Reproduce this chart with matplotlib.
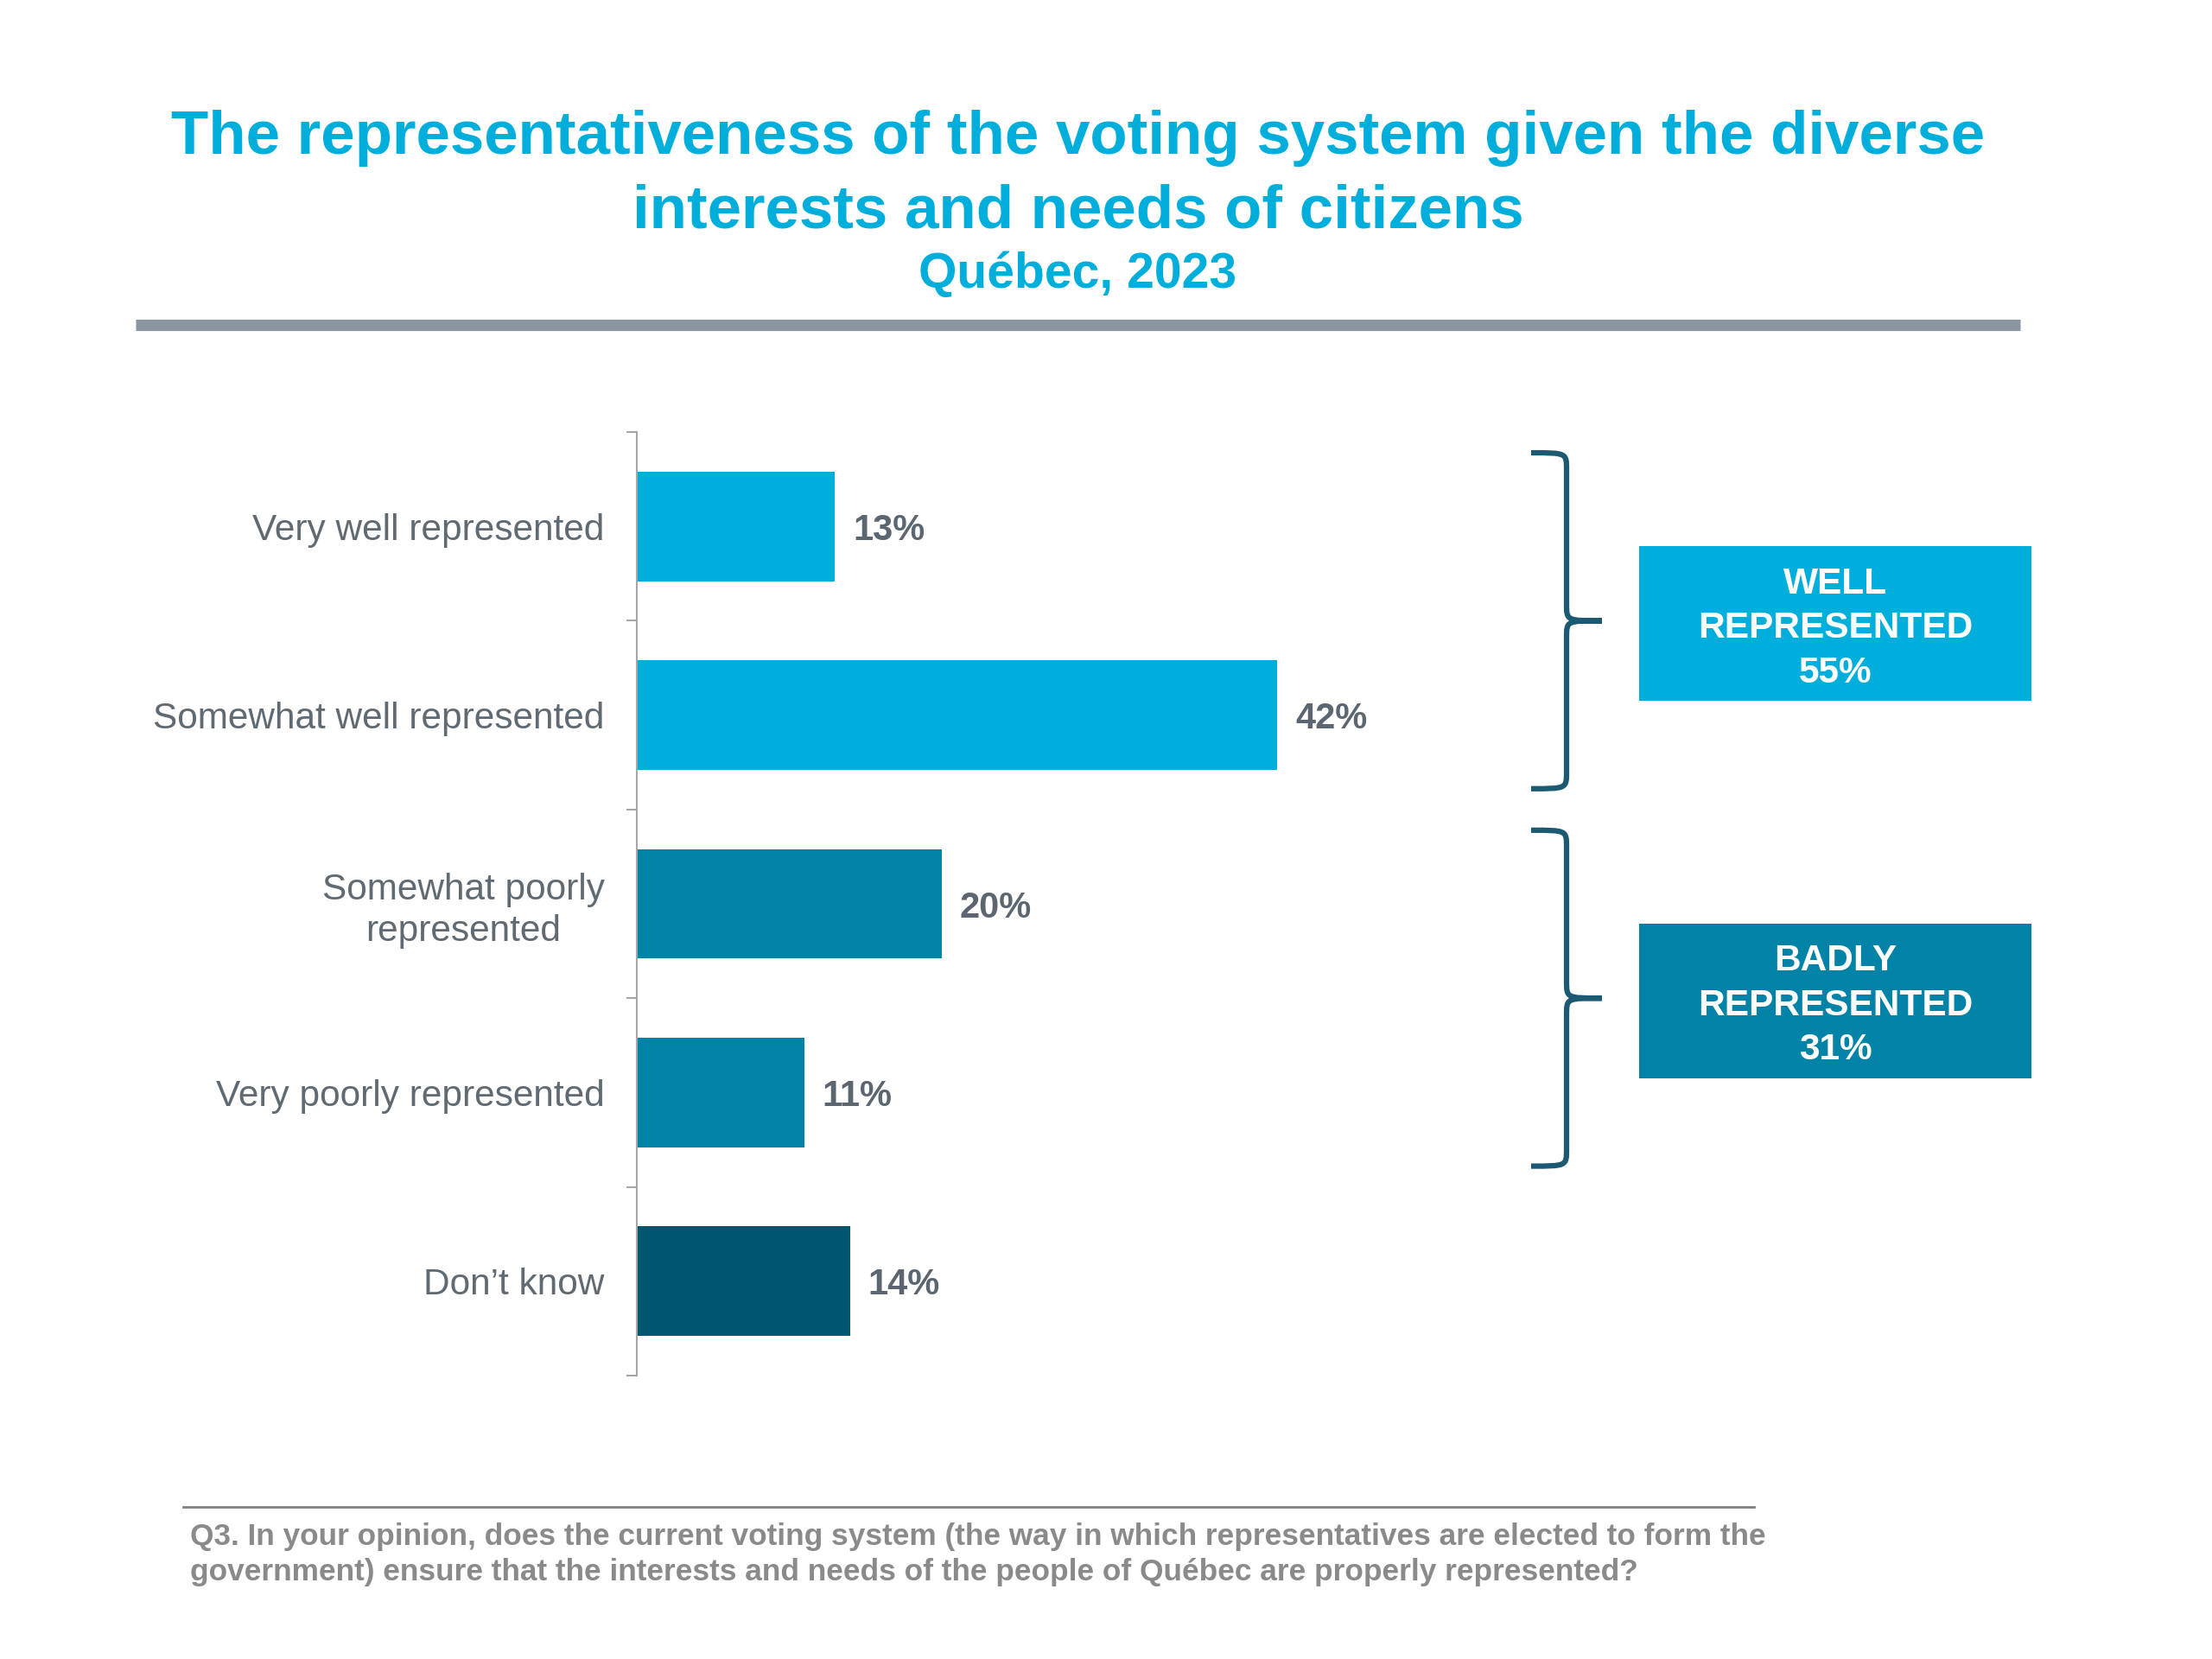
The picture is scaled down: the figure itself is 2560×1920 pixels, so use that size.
import numpy as np
import matplotlib.pyplot as plt
from matplotlib.path import Path
from matplotlib.patches import PathPatch, Rectangle
from matplotlib.lines import Line2D
from matplotlib.transforms import blended_transform_factory

plt.rcParams['font.family'] = ['Liberation Sans', 'DejaVu Sans']

# data
categories = ['Very well represented', 'Somewhat well represented',
              'Somewhat poorly\nrepresented', 'Very poorly represented',
              'Don\u2019t know']
values = [13, 42, 20, 11, 14]
bar_colors = ['#00AEDB', '#00AEDB', '#0083A6', '#0083A6', '#00566E']
groups = ['WELL\nREPRESENTED\n55%', 'BADLY\nREPRESENTED\n31%']
group_rows = [(0, 1), (2, 3)]
group_colors = ['#00AEDB', '#0083A6']

title_color = '#00AEDB'
label_color = '#5F6A72'
brace_color = '#1B5A72'

fig = plt.figure(figsize=(25.6, 19.2), dpi=100)

# titles
tx = 764 / 1568
fig.text(tx, 1 - 160 / 1920, 'The representativeness of the voting system given the diverse',
         ha='center', va='center', fontsize=51, fontweight='bold', color=title_color)
fig.text(tx, 1 - 245 / 1920, 'interests and needs of citizens',
         ha='center', va='center', fontsize=51, fontweight='bold', color=title_color)
fig.text(tx, 1 - 318 / 1920, 'Québec, 2023',
         ha='center', va='center', fontsize=41, fontweight='bold', color=title_color)
fig.add_artist(Line2D([157 / 2560, 2338 / 2560], [1 - 376 / 1920] * 2,
                      color='#8C96A0', lw=9.5, solid_capstyle='butt'))

# bars
ax = fig.add_axes([736.5 / 2560, 1 - 1592 / 1920, 50 * 17.65 / 2560, 1092 / 1920])
y = np.arange(len(categories))
ax.barh(y, values, height=0.58, color=bar_colors)
for yi, v in zip(y, values):
    ax.text(v + 1.2, yi, f'{v}%', va='center_baseline', ha='left', fontsize=30,
            fontweight='bold', color='#5B6670')
ax.set_xlim(0, 50)
ax.set_ylim(len(categories) - 0.5, -0.5)
ax.set_yticks(np.arange(-0.5, len(categories), 1.0))
ax.set_yticks(y, minor=True)
ax.set_yticklabels([])
ax.set_yticklabels(categories, minor=True, fontsize=30.5, color=label_color,
                   ha='right', multialignment='center', linespacing=1.25)
ax.tick_params(axis='y', which='major', length=9, width=1.5, color='#A6A6A6')
ax.tick_params(axis='y', which='minor', length=0, pad=26.5)
ax.set_xticks([])
for s in ['top', 'right', 'bottom']:
    ax.spines[s].set_visible(False)
ax.spines['left'].set_color('#A6A6A6')
ax.spines['left'].set_linewidth(1.5)

# braces and group boxes
tr = blended_transform_factory(fig.transFigure, ax.transData)
xl, xv, xt = 1772 / 2560, 1813 / 2560, 1854 / 2560
r = 0.09
for (r0, r1), txt, col in zip(group_rows, groups, group_colors):
    m = (r0 + r1) / 2
    a, b = m - 0.89, m + 0.89
    verts = [(xl, a), (xv, a), (xv, a), (xv, a + r),
             (xv, m - r), (xv, m), (xv, m), (xt, m),
             (xv, m), (xv, m), (xv, m + r),
             (xv, b - r), (xv, b), (xv, b), (xl, b)]
    codes = [Path.MOVETO, Path.CURVE4, Path.CURVE4, Path.CURVE4,
             Path.LINETO, Path.CURVE4, Path.CURVE4, Path.CURVE4,
             Path.CURVE4, Path.CURVE4, Path.CURVE4,
             Path.LINETO, Path.CURVE4, Path.CURVE4, Path.CURVE4]
    fig.add_artist(PathPatch(Path(verts, codes), transform=tr, fill=False,
                             edgecolor=brace_color, lw=4.5, clip_on=False))
    bx0, bx1 = 1897 / 2560, 2351 / 2560
    fig.add_artist(Rectangle((bx0, m - 0.395), bx1 - bx0, 0.82, transform=tr,
                             facecolor=col, edgecolor='none', clip_on=False))
    fig.text((bx0 + bx1) / 2, m + 0.04, txt, transform=tr, ha='center', va='center',
             fontsize=30.5, fontweight='bold', color='white', linespacing=1.37)

# footer
fig.add_artist(Line2D([212 / 2560, 2030 / 2560], [1 - 1744 / 1920] * 2,
                      color='#808080', lw=2))
fig.text(220 / 2560, 1 - 1799 / 1920,
         'Q3. In your opinion, does the current voting system (the way in which representatives are elected to form the\n'
         'government) ensure that the interests and needs of the people of Québec are properly represented?',
         ha='left', va='center', fontsize=25.4, fontweight='bold', color='#8A8A8A',
         linespacing=1.3)

fig.savefig('out.png', dpi=100)
